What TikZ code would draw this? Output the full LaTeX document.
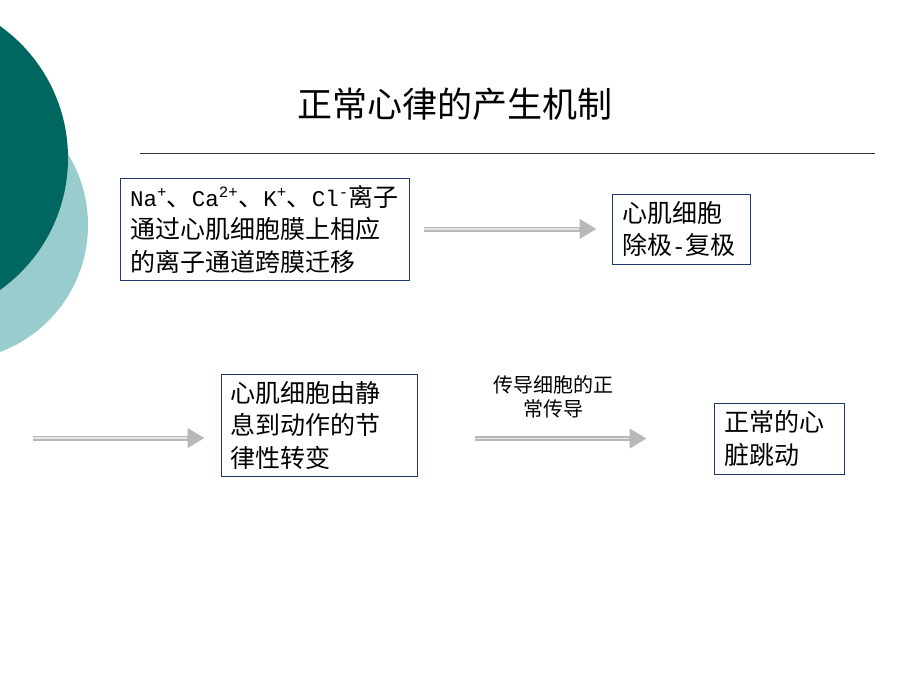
\documentclass[tikz,border=0pt]{standalone}
\usepackage{fontspec}
\setmainfont{Noto Sans CJK SC}
\newfontfamily\latinmono[Scale=0.9]{Liberation Mono}
\usetikzlibrary{arrows.meta}
\definecolor{darkteal}{RGB}{0,102,96}
\definecolor{lightteal}{RGB}{153,204,204}
\definecolor{boxblue}{RGB}{31,56,110}
\begin{document}
\begin{tikzpicture}[x=1pt, y=-1pt,
  box/.style={draw=boxblue, line width=0.9pt, fill=white, align=left, inner xsep=10pt, inner ysep=0pt,
    font=\fontsize{25}{32.5}\selectfont},
  flow/.style={draw=black!28, line width=5pt, -{Triangle[length=17pt,width=19pt]}},
  stripe/.style={draw=black!10, line width=1.4pt},
  lbl/.style={font=\fontsize{20}{24}\selectfont, align=center}]
\useasboundingbox (0,0) rectangle (920,690);
\clip (0,0) rectangle (920,690);
\fill[lightteal] (-47.6,225) circle (135.6);
\fill[darkteal] (-94,158) circle (162);
\node[font=\fontsize{35}{40}\selectfont] (title) at (455,104) {正常心律的产生机制};
\draw[black!80, line width=0.8pt] (140,153) -- (875,153);
\node[box, text width=269pt, minimum height=102pt] (ion) at (264.5,229) {{\latinmono Na\textsuperscript{+}}、{\latinmono Ca\textsuperscript{2+}}、{\latinmono K\textsuperscript{+}}、{\latinmono Cl\textsuperscript{-}}离子\\通过心肌细胞膜上相应\\的离子通道跨膜迁移};
\node[box, text width=118pt, minimum height=70pt] (depol) at (681,229) {心肌细胞\\除极{\latinmono -}复极};
\node[box, text width=178pt, minimum height=102pt, inner xsep=9pt] (rhythm) at (319,425) {心肌细胞由静\\息到动作的节\\律性转变};
\node[box, text width=110pt, minimum height=71pt] (beat) at (779,438.5) {正常的心\\脏跳动};
\coordinate (start) at (33,438);
\node[lbl] (cond) at (553,397) {传导细胞的正\\常传导};
% arrows
\draw[flow, shorten <=15pt, shorten >=15pt] (ion) -- (depol);
\draw[stripe, shorten <=15pt, shorten >=33pt] (ion) -- (depol);
\draw[flow, shorten >=16pt] (start) -- (rhythm.west |- start);
\draw[stripe, shorten >=34pt] (start) -- (rhythm.west |- start);
\draw[flow, shorten <=58pt, shorten >=67pt] (rhythm.east |- beat.west) -- (beat.west);
\draw[stripe, shorten <=58pt, shorten >=85pt] (rhythm.east |- beat.west) -- (beat.west);
\end{tikzpicture}
\end{document}
